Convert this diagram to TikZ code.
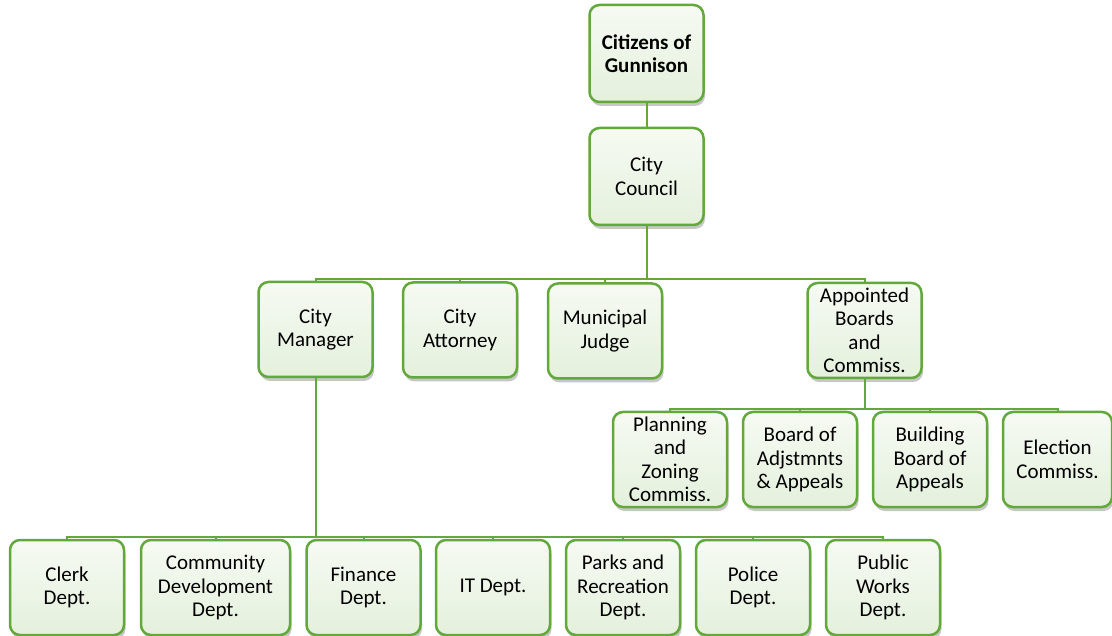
\documentclass[tikz,border=0pt]{standalone}
\usepackage{fontspec}
\setmainfont{Carlito}
\usetikzlibrary{shadows}
\definecolor{boxline}{RGB}{98,168,58}
\definecolor{boxtop}{RGB}{246,250,243}
\definecolor{boxbot}{RGB}{228,240,220}
\tikzset{
	unit/.style={draw=boxline, line width=2.5pt, rounded corners=10pt,
		top color=boxtop, bottom color=boxbot,
		drop shadow={shadow xshift=1.5pt, shadow yshift=-4pt, fill=black, opacity=0.22},
		minimum width=114pt, minimum height=95pt, inner sep=1pt,
		align=center, font=\fontsize{21}{23.5}\selectfont},
	link/.style={draw=boxline, line width=2pt}
}
\begin{document}
\begin{tikzpicture}[x=1pt,y=-1pt]
\useasboundingbox (0,0) rectangle (1112,636);
\node[unit, minimum height=97pt, font=\fontsize{21}{23.5}\selectfont\bfseries] (Citizens) at (646.5,53.5) {Citizens of\\Gunnison};
\node[unit, minimum height=97pt] (Council) at (646.5,176.5) {City\\Council};

\node[unit] (Manager) at (315.5,329.5) {City\\Manager};
\node[unit] (Attorney) at (460,330) {City\\Attorney};
\node[unit] (Judge) at (605,331) {Municipal\\Judge};
\node[unit] (Appointed) at (864.5,330.5) {Appointed\\Boards\\and\\Commiss.};

\node[unit] (Planning) at (670,459.5) {Planning\\and\\Zoning\\Commiss.};
\node[unit] (Adjust) at (800,459.5) {Board of\\Adjstmnts\\\& Appeals};
\node[unit] (Building) at (930,459.5) {Building\\Board of\\Appeals};
\node[unit, minimum width=109pt] (Election) at (1057.5,459.5) {Election\\Commiss.};

\node[unit] (Clerk) at (67,587.5) {Clerk\\Dept.};
\node[unit, minimum width=149pt] (Community) at (215.5,587.5) {Community\\Development\\Dept.};
\node[unit] (Finance) at (363.5,587.5) {Finance\\Dept.};
\node[unit] (IT) at (493,587.5) {IT Dept.};
\node[unit] (Parks) at (623,587.5) {Parks and\\Recreation\\Dept.};
\node[unit] (Police) at (753,587.5) {Police\\Dept.};
\node[unit] (Works) at (883,587.5) {Public\\Works\\Dept.};

\coordinate (bar1) at (0,279);
\coordinate (bar2) at (0,409);
\coordinate (bar3) at (0,537);

\draw[link] (Citizens) -- (Council);

\draw[link] \foreach \n in {Manager, Attorney, Judge, Appointed}
{
	(Council.south) |- (\n.north |- bar1) -- (\n.north)
};

\draw[link] \foreach \n in {Planning, Adjust, Building, Election}
{
	(Appointed.south) |- (\n.north |- bar2) -- (\n.north)
};

\draw[link] \foreach \n in {Clerk, Community, Finance, IT, Parks, Police, Works}
{
	(Manager.south) |- (\n.north |- bar3) -- (\n.north)
};

\end{tikzpicture}
\end{document}
